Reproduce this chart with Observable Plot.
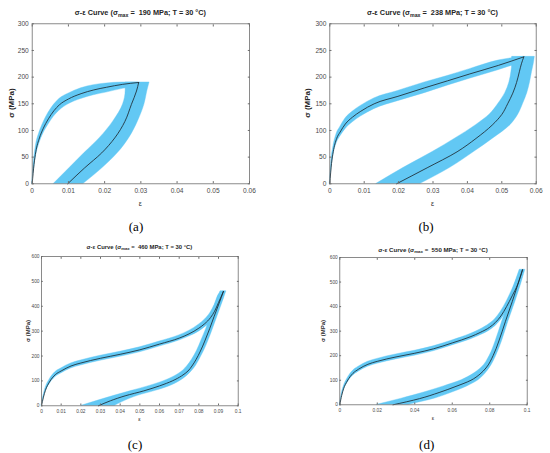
<!DOCTYPE html>
<html><head><meta charset="utf-8">
<script src="https://cdn.jsdelivr.net/npm/d3@7"></script>
<script src="https://cdn.jsdelivr.net/npm/@observablehq/plot@0.6"></script>
<style>
body{margin:0;background:#fff;}
#fig{position:relative;width:550px;height:453px;background:#fff;overflow:hidden;font-family:"Liberation Sans",Arial,sans-serif;}
#fig svg{position:absolute;overflow:visible;}
.t{position:absolute;transform:translate(-50%,-50%);white-space:nowrap;color:#262626;line-height:1;}
.title{font-weight:bold;}
.title sub{font-size:72%;vertical-align:-0.3em;line-height:0;}
.yl{transform:translate(-50%,-50%) rotate(-90deg);font-weight:bold;}
.lab{font-family:"Liberation Serif","Times New Roman",serif;color:#000;}
</style></head><body><div id="fig"></div><script>
// ---------- (a) sigma_max = 190 MPa ----------
const aXTicks = [0, 0.01, 0.02, 0.03, 0.04, 0.05, 0.06];
const aYTicks = [0, 50, 100, 150, 200, 250, 300];
const aLoadStrain = [0, 0.0005, 0.001, 0.002, 0.003, 0.0045, 0.006, 0.0075, 0.01, 0.0135, 0.017, 0.0205, 0.025, 0.0294];
const aLoadStress = [0, 36, 60, 86, 103, 122, 137, 148, 159, 169, 176, 181, 186.5, 190];
const aLoadLow    = [0, 28, 50, 76, 93, 111, 126, 137, 149, 159, 166, 171, 178, 183];
const aLoadHigh   = [0, 44, 70, 96, 113, 133, 148, 159, 169, 179, 185, 188, 190, 190];
const aUnloadStress = [0, 30, 58, 86, 117, 149, 174, 190];
const aUnloadStrain = [0.0098, 0.0145, 0.0192, 0.0228, 0.0256, 0.0274, 0.0288, 0.0294];
const aUnloadLeft   = [0.0060, 0.0104, 0.0145, 0.0187, 0.0224, 0.0251, 0.0258, 0.0258];
const aUnloadRight  = [0.0142, 0.0195, 0.0237, 0.0268, 0.0292, 0.0310, 0.0318, 0.0324];

// ---------- (b) sigma_max = 238 MPa ----------
const bXTicks = [0, 0.01, 0.02, 0.03, 0.04, 0.05, 0.06];
const bYTicks = [0, 50, 100, 150, 200, 250, 300];
const bLoadStrain = [0, 0.0005, 0.001, 0.002, 0.003, 0.0045, 0.0066, 0.009, 0.0129, 0.0198, 0.0276, 0.0342, 0.0407, 0.049, 0.0564];
const bLoadStress = [0, 38, 60, 85, 97, 112, 125, 136, 150, 164, 180, 193, 206, 222, 238];
const bLoadLow    = [0, 30, 52, 76, 88, 102, 115, 126, 140, 155, 170, 184, 197, 213, 229];
const bLoadHigh   = [0, 46, 68, 94, 106, 122, 135, 146, 160, 174, 190, 202, 215, 231, 238];
const bUnloadStress = [0, 30, 60, 85, 110, 130, 150, 170, 190, 210, 225, 238];
const bUnloadStrain = [0.0194, 0.0283, 0.0370, 0.0425, 0.0472, 0.0500, 0.0517, 0.0532, 0.0543, 0.0551, 0.0557, 0.0564];
const bUnloadLeft   = [0.0136, 0.0215, 0.0300, 0.0365, 0.0425, 0.0465, 0.0490, 0.0510, 0.0522, 0.0528, 0.0530, 0.0530];
const bUnloadRight  = [0.0264, 0.0350, 0.0420, 0.0475, 0.0525, 0.0548, 0.0562, 0.0574, 0.0582, 0.0588, 0.0593, 0.0596];

// ---------- (c) sigma_max = 460 MPa ----------
const cXTicks = [0, 0.01, 0.02, 0.03, 0.04, 0.05, 0.06, 0.07, 0.08, 0.09, 0.1];
const cYTicks = [0, 100, 200, 300, 400, 500, 600];
const cLoadStrain = [0, 0.001, 0.002, 0.004, 0.007, 0.01, 0.015, 0.02, 0.03, 0.04, 0.05, 0.06, 0.07, 0.075, 0.08, 0.083, 0.086, 0.088, 0.09, 0.0925];
const cLoadStress = [0, 35, 62, 95, 125, 140, 160, 172, 191, 207, 225, 248, 272, 289, 312, 330, 355, 380, 415, 460];
const cLoadLow    = [0, 30, 55, 86, 115, 130, 150, 162, 181, 197, 215, 238, 262, 278, 298, 315, 335, 355, 385, 430];
const cLoadHigh   = [0, 40, 70, 104, 135, 150, 170, 182, 201, 217, 235, 258, 283, 301, 326, 346, 375, 405, 445, 460];
const cUnloadStress = [0, 20, 40, 60, 80, 100, 120, 140, 160, 185, 220, 260, 310, 360, 410, 460];
const cUnloadStrain = [0.0289, 0.0350, 0.0425, 0.0520, 0.0600, 0.0665, 0.0712, 0.0745, 0.0765, 0.0785, 0.0808, 0.0830, 0.0855, 0.0878, 0.0902, 0.0925];
const cUnloadLeft   = [0.0204, 0.0285, 0.0370, 0.0460, 0.0550, 0.0625, 0.0680, 0.0718, 0.0742, 0.0765, 0.0790, 0.0812, 0.0838, 0.0861, 0.0885, 0.0910];
const cUnloadRight  = [0.0374, 0.0425, 0.0490, 0.0580, 0.0655, 0.0705, 0.0740, 0.0765, 0.0785, 0.0803, 0.0826, 0.0848, 0.0872, 0.0895, 0.0918, 0.0940];

// ---------- (d) sigma_max = 550 MPa ----------
const dXTicks = [0, 0.02, 0.04, 0.06, 0.08, 0.1];
const dYTicks = [0, 100, 200, 300, 400, 500, 600];
const dLoadStrain = [0, 0.001, 0.002, 0.004, 0.007, 0.01, 0.015, 0.02, 0.03, 0.04, 0.05, 0.06, 0.07, 0.075, 0.08, 0.083, 0.086, 0.089, 0.092, 0.095, 0.0975];
const dLoadStress = [0, 38, 65, 97, 128, 145, 165, 177, 195, 210, 228, 252, 278, 295, 316, 335, 362, 400, 444, 492, 550];
const dLoadLow    = [0, 32, 58, 88, 118, 135, 155, 167, 185, 200, 218, 242, 267, 283, 303, 320, 345, 380, 420, 465, 520];
const dLoadHigh   = [0, 44, 72, 106, 138, 155, 175, 187, 205, 220, 238, 262, 289, 307, 330, 350, 380, 420, 468, 520, 550];
const dUnloadStress = [0, 25, 50, 75, 100, 125, 150, 200, 260, 340, 420, 490, 550];
const dUnloadStrain = [0.0284, 0.0425, 0.0530, 0.0620, 0.0700, 0.0748, 0.0780, 0.0818, 0.0849, 0.0884, 0.0920, 0.0950, 0.0975];
const dUnloadLeft   = [0.0200, 0.0330, 0.0450, 0.0555, 0.0650, 0.0712, 0.0755, 0.0800, 0.0832, 0.0867, 0.0903, 0.0933, 0.0960];
const dUnloadRight  = [0.0368, 0.0505, 0.0600, 0.0680, 0.0740, 0.0775, 0.0800, 0.0835, 0.0866, 0.0900, 0.0937, 0.0967, 0.0990];

const BAND = "#62c8f4";
const MEAN = "#1d2a33";
const AXIS = "#6e6e6e";
const fig = document.getElementById("fig");

function loadRows(e, s, lo, hi) { return e.map((v, i) => ({e: v, s: s[i], lo: lo[i], hi: hi[i]})); }
function unloadRows(s, e, l, r) { return s.map((v, i) => ({s: v, e: e[i], l: l[i], r: r[i]})); }
const fmt = d => String(d);

function panel(c) {
  const L = c.load, U = c.unload;
  const ax = {tickSize: -c.tick, color: AXIS, label: null};
  const svg = Plot.plot({
    width: c.width, height: c.height,
    marginLeft: c.mL, marginRight: c.mR, marginTop: c.mT, marginBottom: c.mB,
    x: {domain: [0, c.xMax]},
    y: {domain: [0, c.yMax]},
    style: {fontFamily: "'Liberation Sans', Arial, sans-serif", fontSize: c.fs + "px", color: "#4a4a4a", background: "transparent", overflow: "visible"},
    marks: [
      Plot.areaY(L, {x: "e", y1: "lo", y2: "hi", fill: BAND, stroke: BAND, strokeWidth: 0.4, curve: "monotone-x"}),
      Plot.areaX(U, {y: "s", x1: "l", x2: "r", fill: BAND, stroke: BAND, strokeWidth: 0.4, curve: "monotone-y"}),
      Plot.line(L, {x: "e", y: "s", stroke: MEAN, strokeWidth: 0.85, curve: "monotone-x"}),
      Plot.line(U, {x: "e", y: "s", stroke: MEAN, strokeWidth: 0.85, curve: "monotone-y"}),
      Plot.frame({stroke: AXIS, strokeWidth: 0.8}),
      Plot.axisX(c.xTicks, {...ax, anchor: "bottom", tickPadding: c.padX + c.tick, tickFormat: fmt, fill: "#4a4a4a"}),
      Plot.axisX(c.xTicks, {...ax, anchor: "top", tickFormat: () => ""}),
      Plot.axisY(c.yTicks, {...ax, anchor: "left", tickPadding: c.padY + c.tick, tickFormat: fmt, fill: "#4a4a4a"}),
      Plot.axisY(c.yTicks, {...ax, anchor: "right", tickFormat: () => ""})
    ]
  });
  svg.style.left = c.left + "px";
  svg.style.top = c.top + "px";
  fig.appendChild(svg);
}

function text(cls, html, x, y, size) {
  const d = document.createElement("div");
  d.className = "t " + cls;
  d.innerHTML = html;
  d.style.left = x + "px";
  d.style.top = y + "px";
  d.style.fontSize = size + "px";
  fig.appendChild(d);
}

panel({left: 0, top: 0, width: 275, height: 215, mL: 31.7, mR: 26, mT: 23.3, mB: 31.7,
  xMax: 0.06, yMax: 300, xTicks: aXTicks, yTicks: aYTicks, fs: 6.6, tick: 2.2, padX: 5, padY: 3.4,
  load: loadRows(aLoadStrain, aLoadStress, aLoadLow, aLoadHigh),
  unload: unloadRows(aUnloadStress, aUnloadStrain, aUnloadLeft, aUnloadRight)});
panel({left: 275, top: 0, width: 275, height: 215, mL: 54.3, mR: 14.3, mT: 23.3, mB: 31.7,
  xMax: 0.06, yMax: 300, xTicks: bXTicks, yTicks: bYTicks, fs: 6.6, tick: 2.2, padX: 5, padY: 3.4,
  load: loadRows(bLoadStrain, bLoadStress, bLoadLow, bLoadHigh),
  unload: unloadRows(bUnloadStress, bUnloadStrain, bUnloadLeft, bUnloadRight)});
panel({left: 0, top: 225, width: 275, height: 228, mL: 41, mR: 37.3, mT: 31, mB: 47.7,
  xMax: 0.1, yMax: 600, xTicks: cXTicks, yTicks: cYTicks, fs: 4.8, tick: 1.8, padX: 4, padY: 2,
  load: loadRows(cLoadStrain, cLoadStress, cLoadLow, cLoadHigh),
  unload: unloadRows(cUnloadStress, cUnloadStrain, cUnloadLeft, cUnloadRight)});
panel({left: 275, top: 225, width: 275, height: 228, mL: 64.3, mR: 23.3, mT: 32, mB: 48.7,
  xMax: 0.1, yMax: 600, xTicks: dXTicks, yTicks: dYTicks, fs: 4.8, tick: 1.8, padX: 4, padY: 2,
  load: loadRows(dLoadStrain, dLoadStress, dLoadLow, dLoadHigh),
  unload: unloadRows(dUnloadStress, dUnloadStrain, dUnloadLeft, dUnloadRight)});

// titles
text("title", "σ-ε Curve (σ<sub>max</sub> =&nbsp; 190 MPa; T = 30 °C)", 140.4, 12.5, 7.3);
text("title", "σ-ε Curve (σ<sub>max</sub> =&nbsp; 238 MPa; T = 30 °C)", 432.5, 12.5, 7.3);
text("title", "σ-ε Curve (σ<sub>max</sub> =&nbsp; 460 MPa; T = 30 °C)", 139.4, 248.3, 5.9);
text("title", "σ-ε Curve (σ<sub>max</sub> =&nbsp; 550 MPa; T = 30 °C)", 433, 250, 6.1);
// y labels
text("yl", "σ (MPa)", 12.3, 103.3, 8);
text("yl", "σ (MPa)", 308.3, 103.3, 8);
text("yl", "σ (MPa)", 28, 330.7, 6);
text("yl", "σ (MPa)", 323, 330.7, 6);
// x labels
text("", "ε", 140.4, 202.5, 7);
text("", "ε", 432.5, 202.5, 7);
text("", "ε", 139.4, 420, 5.5);
text("", "ε", 433, 419, 5.5);
// panel letters
text("lab", "(a)", 136, 225.5, 13);
text("lab", "(b)", 426, 225.5, 13);
text("lab", "(c)", 135, 444, 13);
text("lab", "(d)", 426.7, 444, 13);
</script></body></html>
